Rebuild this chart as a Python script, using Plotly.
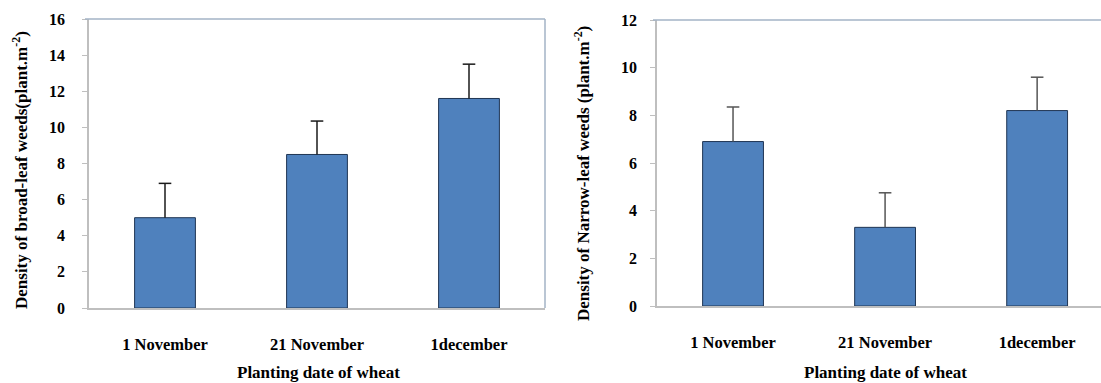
import plotly.graph_objects as go

# Planting dates (categories)
dates = ["1 November", "21 November", "1december"]

# Broad-leaf weed density (plant.m-2) and standard errors
broad_mean = [5.0, 8.5, 11.6]
broad_err = [1.9, 1.85, 1.9]

# Narrow-leaf weed density (plant.m-2) and standard errors
narrow_mean = [6.9, 3.3, 8.2]
narrow_err = [1.45, 1.45, 1.4]

left_ticks = [0, 2, 4, 6, 8, 10, 12, 14, 16]
right_ticks = [0, 2, 4, 6, 8, 10, 12]

BAR = "#4F81BD"
EDGE = "#1F3553"
AXIS = "#BFBFBF"
FRAME = "#A3B3C6"
FONT = "Times New Roman, Liberation Serif, DejaVu Serif, serif"

fig = go.Figure()


def add_panel(means, errs, xa, ya, err_color):
    fig.add_trace(go.Bar(
        x=dates, y=means, xaxis=xa, yaxis=ya, width=0.4,
        marker=dict(color=BAR, line=dict(color=EDGE, width=1)),
        showlegend=False, hoverinfo="skip",
    ))
    # upper error whiskers: stem from bar top to mean + error
    sx, sy = [], []
    for d, m, e in zip(dates, means, errs):
        sx += [d, d, None]
        sy += [m, m + e, None]
    fig.add_trace(go.Scatter(
        x=sx, y=sy, xaxis=xa, yaxis=ya, mode="lines",
        line=dict(color=err_color, width=1.5), showlegend=False, hoverinfo="skip",
    ))
    # whisker caps
    fig.add_trace(go.Scatter(
        x=dates, y=[m + e for m, e in zip(means, errs)], xaxis=xa, yaxis=ya,
        mode="markers", marker=dict(symbol="line-ew", size=9,
                                    line=dict(color=err_color, width=1.5)),
        showlegend=False, hoverinfo="skip",
    ))


add_panel(broad_mean, broad_err, "x", "y", "#1a1a1a")
add_panel(narrow_mean, narrow_err, "x2", "y2", "#555555")

W, H = 1101, 383
ml, mr, mt, mb = 89, 0, 19, 75
pw = W - ml - mr
ph = H - mt - mb


def px_x(x):
    return (x - ml) / pw


def px_y(y):
    return (H - mb - y) / ph


ytickfont = dict(family=FONT, size=16, color="black", weight="bold")
xtickfont = dict(family=FONT, size=16.5, color="black", weight="bold")

axis_common = dict(
    showgrid=False, zeroline=False, showline=True, linecolor=AXIS, linewidth=1.5,
    fixedrange=True,
)

fig.update_layout(
    width=W, height=H,
    margin=dict(l=ml, r=mr, t=mt, b=mb),
    paper_bgcolor="white", plot_bgcolor="white",
    font=dict(family=FONT, color="black"),
    xaxis=dict(axis_common, domain=[0, px_x(545)], range=[-0.5, 2.5],
               ticks="", ticklabelstandoff=20, tickfont=xtickfont),
    yaxis=dict(axis_common, domain=[0, 1], range=[0, 16], tickvals=left_ticks,
               ticks="outside", ticklen=5, tickcolor=AXIS, ticklabelstandoff=14,
               tickfont=ytickfont),
    xaxis2=dict(axis_common, anchor="y2", domain=[px_x(657), 1], range=[-0.5, 2.42],
                ticks="", ticklabelstandoff=20, tickfont=xtickfont),
    yaxis2=dict(axis_common, anchor="x2", domain=[px_y(306), px_y(20)], range=[0, 12],
                tickvals=right_ticks, ticks="outside", ticklen=5, tickcolor=AXIS,
                ticklabelstandoff=10, tickfont=ytickfont),
)

# Top and right frame lines of each panel
fig.add_shape(type="line", xref="paper", yref="paper", x0=px_x(85), x1=px_x(545),
              y0=px_y(19), y1=px_y(19), line=dict(color=FRAME, width=1.5))
fig.add_shape(type="line", xref="paper", yref="paper", x0=px_x(545), x1=px_x(545),
              y0=px_y(308), y1=px_y(19), line=dict(color=FRAME, width=1.5))
fig.add_shape(type="line", xref="paper", yref="paper", x0=px_x(653), x1=1,
              y0=px_y(20), y1=px_y(20), line=dict(color=FRAME, width=1.5))

title_font = dict(family=FONT, size=17, color="black", weight="bold")
common_ann = dict(xref="paper", yref="paper", showarrow=False, borderpad=0,
                  xanchor="center", yanchor="middle", font=title_font)
fig.add_annotation(text="Planting date of wheat", x=px_x(318), y=px_y(372), **common_ann)
fig.add_annotation(text="Planting date of wheat", x=px_x(885), y=px_y(372), **common_ann)
fig.add_annotation(text="Density of broad-leaf weeds(plant.m<sup>-2</sup>)",
                   x=px_x(20), y=px_y(170), textangle=-90, **common_ann)
fig.add_annotation(text="Density of Narrow-leaf weeds (plant.m<sup>-2</sup>)",
                   x=px_x(582), y=px_y(174), textangle=-90, **common_ann)

fig.write_html("out.html")
